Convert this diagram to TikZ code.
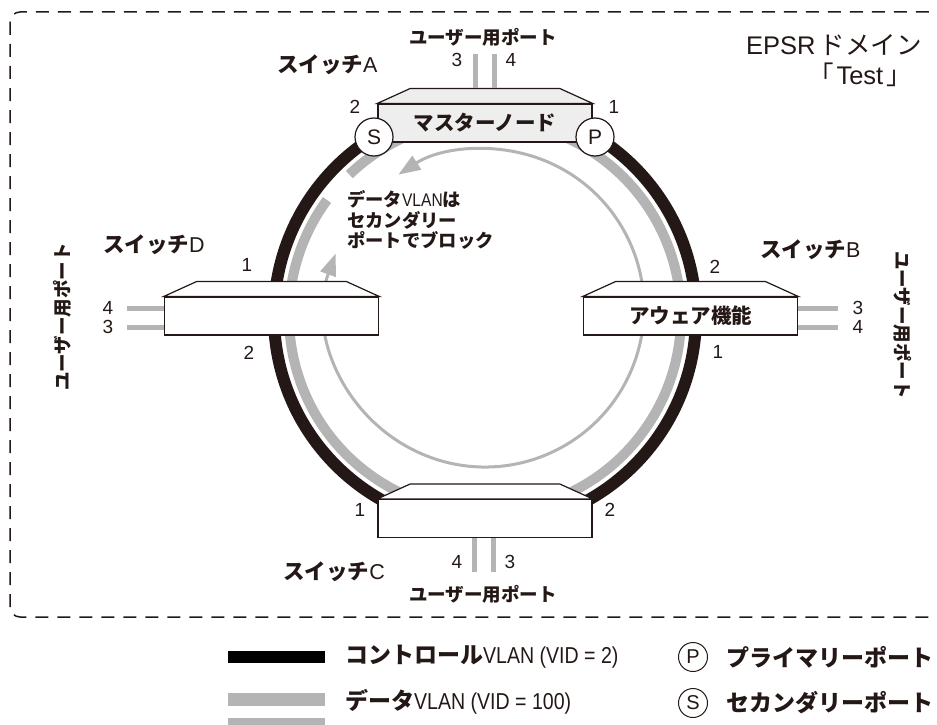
\documentclass[tikz,border=0pt]{standalone}
\usepackage{fontspec}
\setmainfont{Liberation Sans}
\newfontfamily\jp{Noto Sans CJK JP}
\newfontfamily\cond[FakeStretch=0.85]{Liberation Sans}
\usetikzlibrary{arrows.meta}
\definecolor{ringblack}{RGB}{35,24,21}
\definecolor{ringgrey}{RGB}{180,180,180}
\definecolor{masterfill}{RGB}{238,238,238}
\newcommand\jb[1]{{\jp\bfseries #1}}
\newcommand\fs[1]{\fontsize{#1}{#1}\selectfont}
\begin{document}
\begin{tikzpicture}[x=1pt,y=1pt,
  swline/.style={draw=ringblack, line width=1.2pt},
  swbox/.style={swline, fill=white, minimum width=214pt, minimum height=38pt, inner sep=0pt, text=ringblack, font=\fs{20.5}},
  port/.style={ringgrey, line width=5pt},
  lbl/.style={text=ringblack, inner sep=0pt, font=\fs{18}},
  swname/.style={text=ringblack, inner sep=0pt, font=\fs{21.5}},
  num/.style={text=ringblack, inner sep=0pt, font=\fs{19}},
  pcirc/.style={circle, draw=ringblack, line width=1.2pt, fill=white, minimum size=38pt, inner sep=0pt, text=ringblack, font=\fs{21}},
  lgcirc/.style={circle, draw=ringblack, line width=1pt, fill=white, minimum size=29pt, inner sep=0pt, text=ringblack, font=\fs{20}},
  lgtext/.style={text=ringblack, inner sep=0pt, font=\fs{23}},
  bar/.style={minimum width=97pt, inner sep=0pt}
]
\useasboundingbox (0,0) rectangle (937,-725);

% domain border
\draw[ringblack, line width=1.5pt, dash pattern=on 13pt off 9pt, rounded corners=10pt]
  (10,-12) rectangle (965,-617);

% rings
\coordinate (O) at (485,-316);
\draw[ringblack, line width=12pt] (O) circle[radius=211];
\draw[ringgrey, line width=10pt] ([shift={(143.7:196)}]O) arc[start angle=143.7, end angle=493.8, radius=196];
\coordinate (T) at (485,-308);
\draw[ringgrey, line width=3pt, {Triangle[length=22pt,width=16pt]}-{Triangle[length=22pt,width=16pt]}]
  ([shift={(160:159)}]T) arc[start angle=160, end angle=483, radius=159];

% switches
\node[swbox, fill=masterfill] (A) at (485,-123) {\jb{マスターノード}};
\node[swbox] (D) at (271.5,-316) {};
\node[swbox] (B) at (690.5,-316) {\jb{アウェア機能}};
\node[swbox] (C) at (485,-518.5) {};
\foreach \s/\f in {A/masterfill, D/white, B/white, C/white}{
  \draw[swline, fill=\f] (\s.north west) -- ++(33,15) -- ([shift={(-33,15)}]\s.north east) -- (\s.north east) -- cycle;
}

% user ports
\coordinate (A3) at (475,-54);
\coordinate (A4) at (494,-54);
\draw[port] ([shift={(-10,15)}]A.north) -- (A3);
\draw[port] ([shift={(9,15)}]A.north) -- (A4);
\coordinate (D4) at (127,-308);
\coordinate (D3) at (127,-327);
\draw[port] ([yshift=8pt]D.west) -- (D4);
\draw[port] ([yshift=-11pt]D.west) -- (D3);
\coordinate (B3) at (838,-308);
\coordinate (B4) at (838,-327);
\draw[port] ([yshift=8pt]B.east) -- (B3);
\draw[port] ([yshift=-11pt]B.east) -- (B4);
\coordinate (C4) at (474,-572);
\coordinate (C3) at (493,-572);
\draw[port] ([xshift=-11pt]C.south) -- (C4);
\draw[port] ([xshift=8pt]C.south) -- (C3);

% primary / secondary ports
\node[pcirc] (S) at (374,-137) {S};
\node[pcirc] (P) at (595,-137) {P};

% port numbers
\node[num] (nA3) at (457,-60) {3};
\node[num] (nA4) at (511,-60) {4};
\node[num] (nA2) at (355,-107) {2};
\node[num] (nA1) at (614,-107) {1};
\node[num] (nD1) at (247,-265) {1};
\node[num] (nD2) at (249,-353) {2};
\node[num] (nD4) at (108,-308) {4};
\node[num] (nD3) at (108,-327) {3};
\node[num] (nB2) at (715,-267) {2};
\node[num] (nB1) at (718,-352) {1};
\node[num] (nB3) at (858,-308) {3};
\node[num] (nB4) at (858,-327) {4};
\node[num] (nC1) at (360,-510) {1};
\node[num] (nC2) at (610,-510) {2};
\node[num] (nC4) at (457,-562) {4};
\node[num] (nC3) at (510,-562) {3};

% switch names
\node[swname, anchor=west] (tA) at (277,-65) {\jb{スイッチ}A};
\node[swname, anchor=west] (tD) at (103,-245) {\jb{スイッチ}D};
\node[swname, anchor=west] (tB) at (760,-250) {\jb{スイッチ}B};
\node[swname, anchor=east] (tC) at (385,-572) {\jb{スイッチ}C};

% user port labels
\node[lbl, font=\fs{18.5}] (uA) at (483,-37) {\jb{ユーザー用ポート}};
\node[lbl, font=\fs{18.5}] (uC) at (483,-594) {\jb{ユーザー用ポート}};
\node[lbl, font=\fs{18.5}, rotate=90] (uD) at (62,-317) {\jb{ユーザー用ポート}};
\node[lbl, font=\fs{18.5}, rotate=-90] (uB) at (903,-325) {\jb{ユーザー用ポート}};

% domain name
\node[lbl, anchor=east, font=\fs{25.5}] (dom) at (922,-45) {EPSR\,{\jp ドメイン}};
\node[lbl, anchor=east, font=\fs{25.5}] (test) at (912,-75) {{\jp 「}\kern3pt Test\kern3pt{\jp 」}};

% block text
\node[lbl, anchor=north west, align=left, font=\fs{18.3}] (blk) at (347,-190)
  {\jb{データ}{\cond VLAN}\jb{は}\\[2.5pt]\jb{セカンダリー}\\[2.5pt]\jb{ポートでブロック}};

% legend
\node[bar, fill=black, minimum height=12pt] (lgK) at (276.5,-657) {};
\node[bar, fill=ringgrey, minimum height=13pt] (lgG) at (276.5,-699.5) {};
\node[bar, fill=ringgrey, minimum height=8pt] (lgT) at (276.5,-722) {};
\node[lgtext, anchor=west] (lgKt) at (345,-657) {\jb{コントロール}{\cond VLAN (VID = 2)}};
\node[lgtext, anchor=west] (lgGt) at (345,-702) {\jb{データ}{\cond VLAN (VID = 100)}};
\node[lgcirc] (lgP) at (693,-657) {P};
\node[lgcirc] (lgS) at (693,-703) {S};
\node[lgtext, anchor=west] (lgPt) at (726,-657) {\jb{プライマリーポート}};
\node[lgtext, anchor=west] (lgSt) at (726,-703) {\jb{セカンダリーポート}};
\end{tikzpicture}
\end{document}
